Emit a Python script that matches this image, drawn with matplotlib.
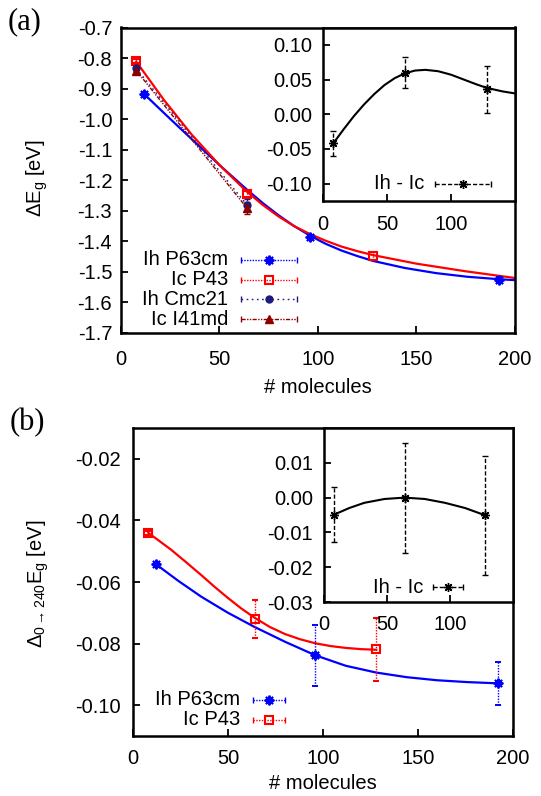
import matplotlib
matplotlib.use("Agg")
import matplotlib.pyplot as plt
from matplotlib.ticker import FormatStrFormatter, FixedLocator, MultipleLocator

# ----------------
# Data
# ----------------

# panel (a): band gap shift vs cluster size
ih_p63_n = [12, 96, 192]
ih_p63_eg = [-0.918, -1.385, -1.527]
ih_p63_err = [0.005, 0.006, 0.010]

ic_p43_n = [8, 64, 128]
ic_p43_eg = [-0.810, -1.246, -1.448]
ic_p43_err = [0.006, 0.010, 0.012]

ih_cmc_n = [8, 64]
ih_cmc_eg = [-0.834, -1.280]
ih_cmc_err = [0.010, 0.020]

ic_i41_n = [8, 64]
ic_i41_eg = [-0.841, -1.290]
ic_i41_err = [0.010, 0.020]

# fitted curves of panel (a)
fit_a_ih_n = [12, 25, 38, 51, 64, 72, 80, 88, 96, 104, 112, 120, 128, 144, 160, 176, 192, 200]
fit_a_ih_eg = [-0.918, -0.998, -1.077, -1.155, -1.230, -1.274, -1.314, -1.350, -1.381,
               -1.408, -1.430, -1.448, -1.464, -1.487, -1.504, -1.516, -1.524, -1.527]
fit_a_ic_n = [8, 22, 36, 50, 64, 72, 80, 88, 96, 104, 112, 120, 128, 150, 175, 200]
fit_a_ic_eg = [-0.812, -0.937, -1.050, -1.149, -1.237, -1.280, -1.318, -1.350, -1.376,
               -1.398, -1.417, -1.432, -1.445, -1.473, -1.498, -1.520]

# inset (a): Ih - Ic
diff_a_n = [8, 64, 128]
diff_a_eg = [-0.042, 0.060, 0.036]
diff_a_err = [0.018, 0.022, 0.034]
fit_diff_a_n = [8, 16, 24, 32, 40, 48, 56, 64, 72, 80, 90, 100, 110, 120, 128, 140, 150]
fit_diff_a_eg = [-0.042, -0.022, -0.003, 0.014, 0.029, 0.042, 0.052, 0.059, 0.063,
                 0.064, 0.062, 0.057, 0.050, 0.043, 0.038, 0.033, 0.030]

# panel (b): 0 -> 240 K renormalisation
ih_b_n = [12, 96, 192]
ih_b_eg = [-0.0542, -0.0838, -0.0929]
ih_b_err = [0.0008, 0.0100, 0.0070]

ic_b_n = [8, 64, 128]
ic_b_eg = [-0.0440, -0.0720, -0.0819]
ic_b_err = [0.0006, 0.0063, 0.0103]

fit_b_ih_n = [12, 24, 36, 50, 64, 80, 96, 112, 128, 144, 160, 176, 192]
fit_b_ih_eg = [-0.0542, -0.0597, -0.0648, -0.0700, -0.0746, -0.0794, -0.0838,
               -0.0872, -0.0894, -0.0909, -0.0919, -0.0925, -0.0929]
fit_b_ic_n = [8, 20, 28, 36, 43, 50, 57, 64, 72, 80, 88, 96, 104, 112, 120, 128]
fit_b_ic_eg = [-0.0440, -0.0495, -0.0536, -0.0578, -0.0616, -0.0652, -0.0686,
               -0.0716, -0.0746, -0.0769, -0.0786, -0.0799, -0.0808, -0.0814,
               -0.0818, -0.0820]

# inset (b): Ih - Ic
diff_b_n = [8, 64, 128]
diff_b_eg = [-0.0049, 0.0000, -0.0051]
diff_b_err = [0.0080, 0.0158, 0.0170]
fit_diff_b_n = [8, 20, 32, 48, 64, 80, 96, 112, 128]
fit_diff_b_eg = [-0.0049, -0.0030, -0.0015, -0.0004, 0.0000, -0.0004, -0.0015,
                 -0.0030, -0.0051]

# tick positions
inset_x_ticks = [0, 50, 100]
inset_a_y_ticks = [-0.10, -0.05, 0.00, 0.05, 0.10]
inset_b_y_ticks = [-0.03, -0.02, -0.01, 0.00, 0.01]

# ----------------
# Styles
# ----------------

plt.rcParams["font.family"] = ["Liberation Sans", "DejaVu Sans"]
plt.rcParams["font.size"] = 14.5
plt.rcParams["axes.unicode_minus"] = False
plt.rcParams["mathtext.fontset"] = "custom"
plt.rcParams["mathtext.rm"] = "Liberation Sans"
plt.rcParams["mathtext.it"] = "Liberation Sans:italic"

BLUE = "#0000ff"
RED = "#ff0000"
NAVY = "#1c1c7c"
DARKRED = "#8b0000"
DOT = (0, (1, 1))
SPARSE = (0, (1.2, 2.5))
DASHDOT = (0, (3, 1, 1, 1, 1, 1))
DASH = (0, (3, 1.5))
ASTER = (8, 2, 0)

W, H = 541, 796


def frac_box(left, top, right, bottom):
    return [left / W, 1 - bottom / H, (right - left) / W, (bottom - top) / H]


def style_axes(ax, ypad, xpad):
    for sp in ax.spines.values():
        sp.set_linewidth(1.8)
    ax.tick_params(direction="in", length=5, width=1.3, top=False, right=False)
    ax.tick_params(axis="y", pad=ypad)
    ax.tick_params(axis="x", pad=xpad)


def points(ax, x, y, err, color, marker, mfc, ms, mew, ls="none", bar_ls=DOT, lw=1.0):
    cont = ax.errorbar(x, y, yerr=err, color=color, marker=marker, mfc=mfc, ms=ms,
                       mew=mew, ls=ls, lw=lw, elinewidth=1.0, capsize=2.5,
                       capthick=1.0, zorder=3)
    for bar in cont[2]:
        bar.set_linestyle(bar_ls)
    if ls != "none":
        cont[0].set_linestyle(ls)
    return cont


def key(ax, xt, y, x0, x1, label, color, marker, mfc, ms, mew, ls):
    ax.text(xt, y, label, transform=ax.transAxes, ha="right", va="center")
    ax.plot([x0, x1], [y, y], transform=ax.transAxes, color=color, ls=ls, lw=1.0)
    ax.plot([x0, x1], [y, y], transform=ax.transAxes, ls="none", marker="|",
            color=color, ms=5, mew=1.0)
    ax.plot([(x0 + x1) / 2], [y], transform=ax.transAxes, ls="none", marker=marker,
            color=color, mfc=mfc, ms=ms, mew=mew)


fig = plt.figure(figsize=(W / 100, H / 100), dpi=100)

# ---------------- panel (a) ----------------
ax_a = fig.add_axes(frac_box(120.5, 27.5, 515, 333))
ax_a.plot(fit_a_ih_n, fit_a_ih_eg, color=BLUE, lw=1.6, zorder=2)
ax_a.plot(fit_a_ic_n, fit_a_ic_eg, color=RED, lw=1.6, zorder=2)
points(ax_a, ih_p63_n, ih_p63_eg, ih_p63_err, BLUE, ASTER, BLUE, 7, 1.4)
points(ax_a, ic_p43_n, ic_p43_eg, ic_p43_err, RED, "s", "none", 5.5, 1.5)
points(ax_a, ih_cmc_n, ih_cmc_eg, ih_cmc_err, NAVY, "o", NAVY, 5, 1.0, ls=SPARSE, bar_ls=SPARSE)
points(ax_a, ic_i41_n, ic_i41_eg, ic_i41_err, DARKRED, "^", DARKRED, 6, 1.0, ls=DASHDOT, bar_ls=DASHDOT)
ax_a.set_xlim(0, 200)
ax_a.set_ylim(-1.7, -0.7)
ax_a.xaxis.set_major_locator(MultipleLocator(50))
ax_a.yaxis.set_major_locator(MultipleLocator(0.1))
ax_a.yaxis.set_major_formatter(FormatStrFormatter("%.1f"))
style_axes(ax_a, 6, 12)
ax_a.set_xlabel("# molecules")
ax_a.xaxis.set_label_coords(0.5, -0.18)
ax_a.xaxis.label.set_va("center")
ax_a.set_ylabel(r"ΔE$_\mathregular{g}$ [eV]")
ax_a.yaxis.set_label_coords(-0.212, 0.507)
ax_a.yaxis.label.set_va("center")

key(ax_a, 0.2725, 0.239, 0.305, 0.447, "Ih P63cm", BLUE, ASTER, BLUE, 7, 1.4, DOT)
key(ax_a, 0.2725, 0.175, 0.305, 0.447, "Ic P43", RED, "s", "none", 5.5, 1.5, DOT)
key(ax_a, 0.2725, 0.110, 0.305, 0.447, "Ih Cmc21", NAVY, "o", NAVY, 5, 1.0, SPARSE)
key(ax_a, 0.2725, 0.045, 0.305, 0.447, "Ic I41md", DARKRED, "^", DARKRED, 6, 1.0, DASHDOT)

# inset (a)
in_a = fig.add_axes(frac_box(323, 27.5, 515, 201))
in_a.set_zorder(5)
in_a.plot(fit_diff_a_n, fit_diff_a_eg, color="black", lw=1.5)
points(in_a, diff_a_n, diff_a_eg, diff_a_err, "black", ASTER, "black", 6.5, 1.0, bar_ls=DASH)
in_a.set_xlim(0, 150)
in_a.set_ylim(-0.125, 0.125)
in_a.xaxis.set_major_locator(FixedLocator(inset_x_ticks))
in_a.yaxis.set_major_locator(FixedLocator(inset_a_y_ticks))
in_a.yaxis.set_major_formatter(FormatStrFormatter("%.2f"))
style_axes(in_a, 8, 10)
key(in_a, 0.526, 0.098, 0.583, 0.875, "Ih - Ic", "black", ASTER, "black", 6.5, 1.0, DASH)

# ---------------- panel (b) ----------------
ax_b = fig.add_axes(frac_box(133, 428, 513, 736))
ax_b.plot(fit_b_ih_n, fit_b_ih_eg, color=BLUE, lw=1.6, zorder=2)
ax_b.plot(fit_b_ic_n, fit_b_ic_eg, color=RED, lw=1.6, zorder=2)
points(ax_b, ih_b_n, ih_b_eg, ih_b_err, BLUE, ASTER, BLUE, 7, 1.4)
points(ax_b, ic_b_n, ic_b_eg, ic_b_err, RED, "s", "none", 5.5, 1.5)
ax_b.set_xlim(0, 200)
ax_b.set_ylim(-0.11, -0.01)
ax_b.xaxis.set_major_locator(MultipleLocator(50))
ax_b.yaxis.set_major_locator(MultipleLocator(0.02))
ax_b.yaxis.set_major_formatter(FormatStrFormatter("%.2f"))
style_axes(ax_b, 9, 9)
ax_b.set_xlabel("# molecules")
ax_b.xaxis.set_label_coords(0.5, -0.153)
ax_b.xaxis.label.set_va("center")
ax_b.set_ylabel(r"Δ$_{\mathregular{0}\rightarrow\mathregular{240}}$E$_\mathregular{g}$ [eV]")
ax_b.yaxis.set_label_coords(-0.25, 0.493)
ax_b.yaxis.label.set_va("center")

key(ax_b, 0.283, 0.117, 0.316, 0.40, "Ih P63cm", BLUE, ASTER, BLUE, 7, 1.4, DOT)
key(ax_b, 0.283, 0.052, 0.316, 0.40, "Ic P43", RED, "s", "none", 5.5, 1.5, DOT)

# inset (b)
in_b = fig.add_axes(frac_box(324, 428, 513, 602))
in_b.set_zorder(5)
in_b.plot(fit_diff_b_n, fit_diff_b_eg, color="black", lw=1.5)
points(in_b, diff_b_n, diff_b_eg, diff_b_err, "black", ASTER, "black", 6.5, 1.0, bar_ls=DASH)
in_b.set_xlim(0, 150)
in_b.set_ylim(-0.03, 0.02)
in_b.xaxis.set_major_locator(FixedLocator(inset_x_ticks))
in_b.yaxis.set_major_locator(FixedLocator(inset_b_y_ticks))
in_b.yaxis.set_major_formatter(FormatStrFormatter("%.2f"))
style_axes(in_b, 8, 9)
key(in_b, 0.524, 0.086, 0.577, 0.735, "Ih - Ic", "black", ASTER, "black", 6.5, 1.0, DASH)

# panel letters
fig.text(8 / W, 1 - 22 / H, "(a)", family="Liberation Serif", fontsize=22, va="center")
fig.text(10 / W, 1 - 423 / H, "(b)", family="Liberation Serif", fontsize=22, va="center")

fig.savefig("out.png", dpi=100)
